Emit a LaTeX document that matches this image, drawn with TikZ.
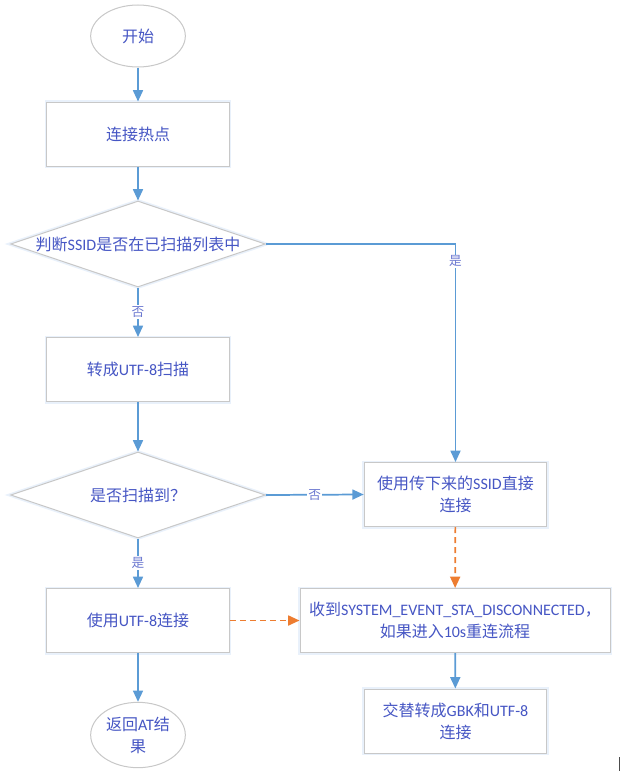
\documentclass[tikz,border=0pt]{standalone}
\usepackage{fontspec}
\setmainfont{Carlito}
\newfontfamily\cjk{Noto Sans CJK SC}
\usetikzlibrary{shapes.geometric,arrows.meta}
\definecolor{flowblue}{HTML}{5B9BD5}
\definecolor{floworange}{HTML}{ED7D31}
\definecolor{flowtext}{HTML}{4656C4}
\definecolor{flowgray}{HTML}{C8C8C8}
\definecolor{flowglow}{HTML}{E9F1FB}

\begin{document}
\begin{tikzpicture}[x=0.75pt,y=-0.75pt,
                    box/.style={rectangle,draw=flowgray,fill=white,line width=0.75pt,minimum width=137pt,minimum height=48pt,align=center,preaction={draw=flowglow,line width=3pt}},
                    decision/.style={diamond,draw=flowgray,fill=white,line width=0.75pt,aspect=3,inner sep=0pt,minimum width=191pt,minimum height=64.5pt,preaction={draw=flowglow,line width=3pt}},
                    terminal/.style={ellipse,draw=flowgray,fill=white,line width=0.75pt,inner sep=0pt,minimum width=71pt,minimum height=46.5pt,align=center},
                    flow/.style={draw=flowblue,line width=1.3pt,-{Triangle[length=8.5pt,width=7.5pt]}},
                    dashflow/.style={draw=floworange,line width=1.3pt,dash pattern=on 4.5pt off 3pt,-{Triangle[length=8.5pt,width=7.5pt]}},
                    lbl/.style={fill=white,inner sep=1pt,text=flowtext!80,font=\fontsize{9.5}{10}\selectfont\cjk}]
    \useasboundingbox (0,0) rectangle (621,771);
    \begin{scope}[font=\fontsize{12}{16.5}\selectfont,text=flowtext]
        \node (start) at (138,36) [terminal] {{\cjk 开始}};
        \node (hotspot) at (138,134) [box] {{\cjk 连接热点}};
        \node (check) at (138,244) [decision] {{\cjk 判断}SSID{\cjk 是否在已扫描列表中}};
        \node (utf) at (138,369.5) [box] {{\cjk 转成}UTF-8{\cjk 扫描}};
        \node (scan) at (138,495) [decision] {{\cjk 是否扫描到？}};
        \node (useutf) at (138,620.5) [box] {{\cjk 使用}UTF-8{\cjk 连接}};
        \node (finish) at (138,735) [terminal,minimum height=49pt] {{\cjk 返回}AT{\cjk 结}\\{\cjk 果}};
        \node (direct) at (455.5,494.5) [box] {{\cjk 使用传下来的}SSID{\cjk 直接}\\{\cjk 连接}};
        \node (event) at (455,620.5) [box,minimum width=232.5pt] {{\cjk 收到}SYSTEM\_EVENT\_STA\_DISCONNECTED{\cjk ，}\\{\cjk 如果进入}10s{\cjk 重连流程}};
        \node (alt) at (455.5,721) [box] {{\cjk 交替转成}GBK{\cjk 和}UTF-8\\{\cjk 连接}};
    \end{scope}
    \draw [flow] (start) to (hotspot);
    \draw [flow] (hotspot) to (check);
    \draw [flow] (check) to node [lbl] {否} (utf);
    \draw [flow] (check.east) -| node [lbl,pos=0.54] {是} (direct.north);
    \draw [flow] (utf) to (scan);
    \draw [flow] (scan.east) to node [lbl] {否} (direct.west);
    \draw [flow] (scan) to node [lbl] {是} (useutf);
    \draw [flow] (useutf) to (finish);
    \draw [dashflow] (useutf.east) to (event.west);
    \draw [dashflow] (direct) to (event);
    \draw [flow] (event) to (alt);
    \draw [line width=0.75pt,black!70] (619,757) to (619,771);
\end{tikzpicture}
\end{document}
